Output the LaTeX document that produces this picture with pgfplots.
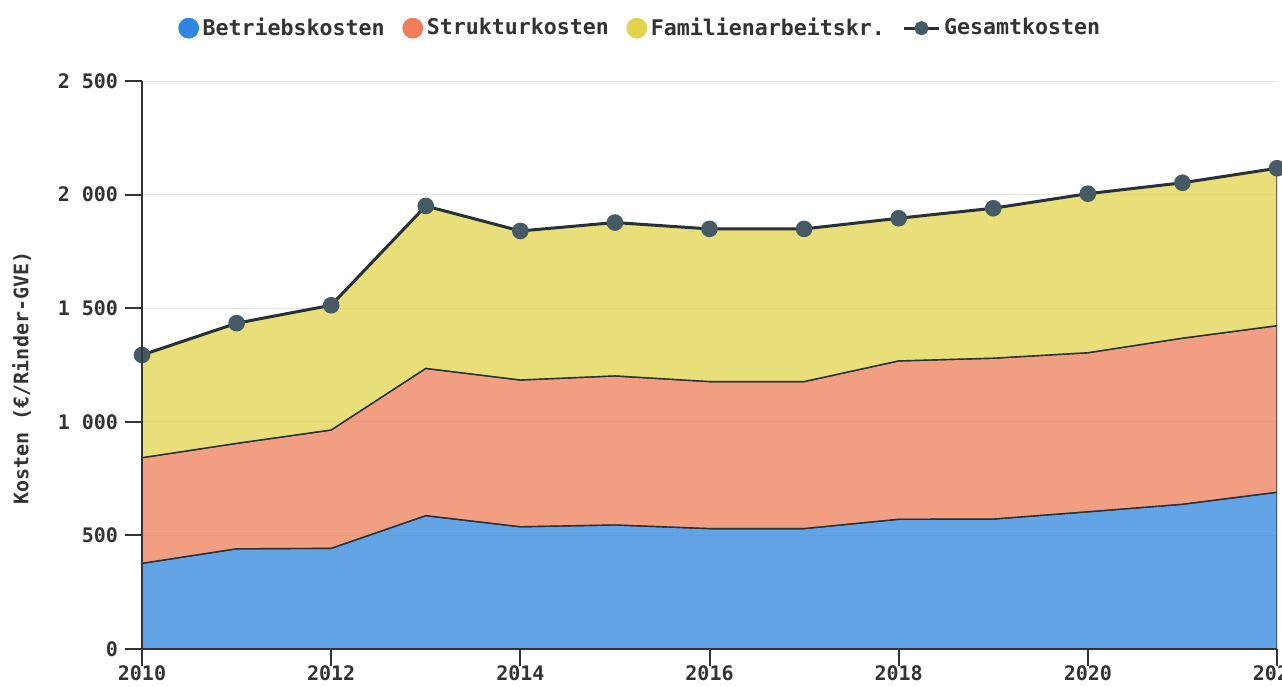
\documentclass[border=0pt]{standalone}
\usepackage{pgfplots}
\usepackage{pgfplotstable}
\pgfplotsset{compat=1.18}
\usepackage{fontspec}
\setmainfont{DejaVu Sans Mono}
\setmonofont{DejaVu Sans Mono}

\definecolor{cBlue}{HTML}{2E86DE}
\definecolor{cOrange}{HTML}{EE7D5A}
\definecolor{cYellow}{HTML}{E2D44E}
\definecolor{cMark}{HTML}{455A64}
\definecolor{cLine}{HTML}{263238}
\definecolor{cAxis}{HTML}{333333}

\pgfplotsset{
  layers/grid below/.define layer set={
    axis background,axis grid,main,axis ticks,axis lines,axis tick labels,axis descriptions,axis foreground
  }{/pgfplots/layers/standard},
}

% Kosten je Rinder-GVE
\pgfplotstableread{
year betrieb struktur familie gesamt
2010 377 465 452 1294
2011 441 464 529 1434
2012 443 521 549 1513
2013 587 648 715 1950
2014 538 646 656 1840
2015 546 656 675 1877
2016 530 647 672 1849
2017 530 647 672 1849
2018 571 697 628 1896
2019 572 708 660 1940
2020 604 700 700 2004
2021 637 731 684 2052
2022 690 733 693 2116
}\kosten

\begin{document}
\begin{tikzpicture}
\begin{axis}[
  name=ax,
  set layers=grid below,
  scale only axis,
  width=567.5pt, height=284pt,
  xmin=2010, xmax=2022,
  ymin=0, ymax=2500,
  xtick={2010,2012,...,2022},
  ytick={0,500,1000,1500,2000,2500},
  yticklabels={0,500,1\ 000,1\ 500,2\ 000,2\ 500},
  /pgf/number format/1000 sep={},
  /pgf/number format/assume math mode=true,
  axis lines*=left,
  axis line style={cAxis, line width=1pt},
  tick style={cAxis, line width=1pt},
  tick align=outside,
  major tick length=8.5pt,
  ticklabel style={font=\bfseries, text=cAxis},
  xticklabel style={inner sep=1pt, yshift=1.5pt},
  ymajorgrids,
  grid style={draw=black!10, line width=0.5pt},
  ylabel={Kosten (€/Rinder-GVE)},
  ylabel style={at={(axis description cs:-0.106,0.477)}, anchor=center, font=\bfseries, text=cAxis},
  legend columns=4,
  legend style={at={(axis description cs:0.44,1.093)}, anchor=center, draw=none, fill=none,
    font=\bfseries\fontsize{10.8}{12}\selectfont, text=cAxis,
    /tikz/every even column/.append style={column sep=7pt}},
]
\addlegendimage{only marks, mark=*, mark size=5pt, cBlue}
\addlegendentry{Betriebskosten}
\addlegendimage{only marks, mark=*, mark size=5pt, cOrange}
\addlegendentry{Strukturkosten}
\addlegendimage{only marks, mark=*, mark size=5pt, cYellow}
\addlegendentry{Familienarbeitskr.}
\addlegendimage{cLine, line width=1.5pt, mark=*, mark size=2.8pt, mark options={cMark}}
\addlegendentry{Gesamtkosten}

\addplot[stack plots=y, forget plot, fill=cBlue, fill opacity=0.75, draw=cLine, line width=0.7pt]
  table[x=year, y=betrieb]{\kosten} \closedcycle;
\addplot[stack plots=y, forget plot, fill=cOrange, fill opacity=0.75, draw=cLine, line width=0.7pt]
  table[x=year, y=struktur]{\kosten} \closedcycle;
\addplot[stack plots=y, forget plot, fill=cYellow, fill opacity=0.75, draw=cLine, line width=0.7pt]
  table[x=year, y=familie]{\kosten} \closedcycle;
\addplot[forget plot, cLine, line width=1.5pt, mark=*, mark size=3.4pt, mark options={cMark}]
  table[x=year, y=gesamt]{\kosten};
\end{axis}
\pgfresetboundingbox
\path ([shift={(-71pt,-18.5pt)}]ax.south west) rectangle ([shift={(2.5pt,40.5pt)}]ax.north east);
\end{tikzpicture}
\end{document}
